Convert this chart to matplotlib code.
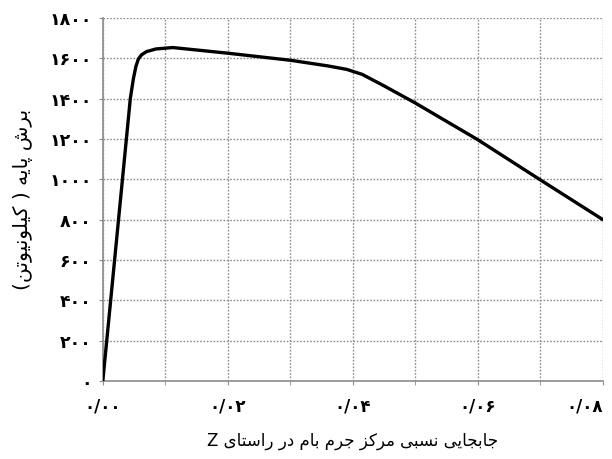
import matplotlib
matplotlib.use("Agg")
import matplotlib.pyplot as plt

# ---------------- data ----------------
drift = [0.0, 0.0044, 0.0049, 0.0053, 0.0057, 0.0062, 0.0070, 0.0085,
         0.0112, 0.0200, 0.0300, 0.0360, 0.0390, 0.0415, 0.0450, 0.0500,
         0.0600, 0.0700, 0.0800]
shear = [0, 1400, 1500, 1560, 1597, 1617, 1633, 1646,
         1653, 1625, 1590, 1562, 1545, 1520, 1463, 1378,
         1196, 997, 800]

x_major = [0.00, 0.02, 0.04, 0.06, 0.08]
x_major_labels = ["۰/۰۰", "۰/۰۲", "۰/۰۴", "۰/۰۶", "۰/۰۸"]
x_minor = [0.01, 0.03, 0.05, 0.07]
y_ticks = [0, 200, 400, 600, 800, 1000, 1200, 1400, 1600, 1800]
y_labels = ["۰", "۲۰۰", "۴۰۰", "۶۰۰", "۸۰۰", "۱۰۰۰", "۱۲۰۰", "۱۴۰۰", "۱۶۰۰", "۱۸۰۰"]

xlabel_text = "جابجایی نسبی مرکز جرم بام در راستای Z"
ylabel_text = "برش پایه ( کیلونیوتن)"

# ------------- simple Arabic/Persian shaping -------------
FORMS = {  # iso, fin, init, med (None for right-joining)
    "ا": ("\uFE8D", "\uFE8E", None, None),
    "ب": ("\uFE8F", "\uFE90", "\uFE91", "\uFE92"),
    "پ": ("\uFB56", "\uFB57", "\uFB58", "\uFB59"),
    "ت": ("\uFE95", "\uFE96", "\uFE97", "\uFE98"),
    "ج": ("\uFE9D", "\uFE9E", "\uFE9F", "\uFEA0"),
    "د": ("\uFEA9", "\uFEAA", None, None),
    "ر": ("\uFEAD", "\uFEAE", None, None),
    "ز": ("\uFEAF", "\uFEB0", None, None),
    "س": ("\uFEB1", "\uFEB2", "\uFEB3", "\uFEB4"),
    "ش": ("\uFEB5", "\uFEB6", "\uFEB7", "\uFEB8"),
    "ک": ("\uFB8E", "\uFB8F", "\uFB90", "\uFB91"),
    "ل": ("\uFEDD", "\uFEDE", "\uFEDF", "\uFEE0"),
    "م": ("\uFEE1", "\uFEE2", "\uFEE3", "\uFEE4"),
    "ن": ("\uFEE5", "\uFEE6", "\uFEE7", "\uFEE8"),
    "ه": ("\uFEE9", "\uFEEA", "\uFEEB", "\uFEEC"),
    "و": ("\uFEED", "\uFEEE", None, None),
    "ی": ("\uFBFC", "\uFBFD", "\uFBFE", "\uFBFF"),
}


def dual(c):
    return c in FORMS and FORMS[c][2] is not None


def shape(text):
    out = []
    n = len(text)
    for i, c in enumerate(text):
        if c not in FORMS:
            out.append(c)
            continue
        prev_c = text[i - 1] if i > 0 else ""
        next_c = text[i + 1] if i < n - 1 else ""
        cp = dual(prev_c)
        cn = dual(c) and next_c in FORMS
        iso, fin, ini, med = FORMS[c]
        if cp and cn:
            out.append(med)
        elif cp:
            out.append(fin)
        elif cn:
            out.append(ini)
        else:
            out.append(iso)
    vis = "".join(reversed(out))
    mirror = {"(": ")", ")": "("}
    return "".join(mirror.get(ch, ch) for ch in vis)


plt.rcParams["font.family"] = ["DejaVu Sans"]

fig = plt.figure(figsize=(6.12, 4.59), dpi=100)
ax = fig.add_axes([0.168, 0.170, 0.817, 0.791])

ax.plot(drift, shear, color="black", linewidth=2.4, solid_capstyle="round",
        solid_joinstyle="round", zorder=3)

ax.set_xlim(0, 0.08)
ax.set_ylim(0, 1800)
ax.set_xticks(x_major)
ax.set_xticklabels(x_major_labels, fontsize=12, fontweight="bold")
ax.set_xticks(x_minor, minor=True)
ax.set_yticks(y_ticks)
ax.set_yticklabels(y_labels, fontsize=12.5, fontweight="bold")
ax.get_xticklabels()[-1].set_horizontalalignment("right")

ax.grid(True, which="both", linestyle=(0, (1.2, 1.2)), color="#8c8c8c",
        linewidth=1.0, zorder=0)
ax.tick_params(axis="both", which="both", length=3, color="#8c8c8c",
               direction="out")
ax.tick_params(axis="x", pad=9)
ax.tick_params(axis="y", pad=5)

for side in ["top", "right"]:
    ax.spines[side].set_visible(False)
for side in ["left", "bottom"]:
    ax.spines[side].set_color("#8c8c8c")
    ax.spines[side].set_linewidth(1.2)

ax.set_xlabel(shape(xlabel_text), fontsize=12, labelpad=12)
ax.set_ylabel(shape(ylabel_text), fontsize=14.5, labelpad=12)

fig.savefig("out.png", dpi=100)
